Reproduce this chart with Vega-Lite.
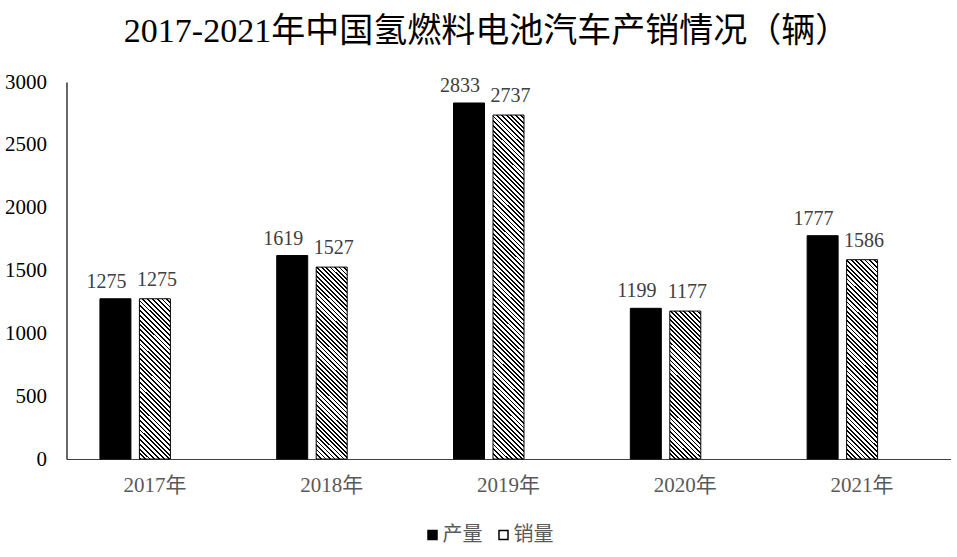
{
"$schema": "https://vega.github.io/schema/vega-lite/v6.json",
"width": 884, "height": 377,
"autosize": {"type": "none"},
"padding": {"left": 66.5, "top": 82, "right": 6.5, "bottom": 98},
"background": "white",
"title": {"text": "2017-2021年中国氢燃料电池汽车产销情况（辆）", "font": "'Liberation Serif', 'Noto Sans CJK SC', serif", "fontSize": 34, "fontWeight": "normal", "color": "#000000", "anchor": "middle", "dx": -22, "dy": 36, "offset": 31, "baseline": "alphabetic"},
"config": {"view": {"stroke": null}, "axis": {"grid": false, "ticks": false, "tickSize": 0}},
"data": {"values": [
{"year": "2017年", "type": "产量", "value": 1275},
{"year": "2017年", "type": "销量", "value": 1275},
{"year": "2018年", "type": "产量", "value": 1619},
{"year": "2018年", "type": "销量", "value": 1527},
{"year": "2019年", "type": "产量", "value": 2833},
{"year": "2019年", "type": "销量", "value": 2737},
{"year": "2020年", "type": "产量", "value": 1199},
{"year": "2020年", "type": "销量", "value": 1177},
{"year": "2021年", "type": "产量", "value": 1777},
{"year": "2021年", "type": "销量", "value": 1586}
]},
"encoding": {
"x": {"field": "year", "type": "nominal", "sort": null, "title": null, "scale": {"paddingInner": 0, "paddingOuter": 0},
 "axis": {"labelAngle": 0, "labelFont": "Liberation Serif, Noto Sans CJK SC", "labelFontSize": 21, "labelColor": "#595959", "labelPadding": 15, "domainColor": "#404040", "domainWidth": 1.2}},
"xOffset": {"field": "type", "type": "nominal", "scale": {"domain": ["产量", "销量", "空"], "paddingInner": 0.2152, "paddingOuter": 0.8469}},
"y": {"field": "value", "type": "quantitative", "title": null, "scale": {"domain": [0, 3000], "nice": false},
 "axis": {"values": [0, 500, 1000, 1500, 2000, 2500, 3000], "format": "d", "labelFont": "Liberation Serif", "labelFontSize": 21, "labelColor": "#000000", "labelPadding": 20, "domainColor": "#000000", "domainWidth": 1.2}}
},
"layer": [
{"mark": {"type": "bar", "stroke": "#000000", "strokeWidth": 1},
 "encoding": {"color": {
  "condition": [
   {"test": "datum.type==='销量'&&datum.year==='2017年'", "value": {"gradient": "linear", "x1": 0, "y1": 1, "x2": 0.2213, "y2": -0.1499, "stops": [
{"offset":0,"color":"#fff"},{"offset":0,"color":"#000"},{"offset":0.01,"color":"#000"},{"offset":0.01,"color":"#fff"},
{"offset":0.025,"color":"#fff"},{"offset":0.025,"color":"#000"},{"offset":0.035,"color":"#000"},{"offset":0.035,"color":"#fff"},
{"offset":0.05,"color":"#fff"},{"offset":0.05,"color":"#000"},{"offset":0.06,"color":"#000"},{"offset":0.06,"color":"#fff"},
{"offset":0.075,"color":"#fff"},{"offset":0.075,"color":"#000"},{"offset":0.085,"color":"#000"},{"offset":0.085,"color":"#fff"},
{"offset":0.1,"color":"#fff"},{"offset":0.1,"color":"#000"},{"offset":0.11,"color":"#000"},{"offset":0.11,"color":"#fff"},
{"offset":0.125,"color":"#fff"},{"offset":0.125,"color":"#000"},{"offset":0.135,"color":"#000"},{"offset":0.135,"color":"#fff"},
{"offset":0.15,"color":"#fff"},{"offset":0.15,"color":"#000"},{"offset":0.16,"color":"#000"},{"offset":0.16,"color":"#fff"},
{"offset":0.175,"color":"#fff"},{"offset":0.175,"color":"#000"},{"offset":0.185,"color":"#000"},{"offset":0.185,"color":"#fff"},
{"offset":0.2,"color":"#fff"},{"offset":0.2,"color":"#000"},{"offset":0.21,"color":"#000"},{"offset":0.21,"color":"#fff"},
{"offset":0.225,"color":"#fff"},{"offset":0.225,"color":"#000"},{"offset":0.235,"color":"#000"},{"offset":0.235,"color":"#fff"},
{"offset":0.25,"color":"#fff"},{"offset":0.25,"color":"#000"},{"offset":0.26,"color":"#000"},{"offset":0.26,"color":"#fff"},
{"offset":0.275,"color":"#fff"},{"offset":0.275,"color":"#000"},{"offset":0.285,"color":"#000"},{"offset":0.285,"color":"#fff"},
{"offset":0.3,"color":"#fff"},{"offset":0.3,"color":"#000"},{"offset":0.31,"color":"#000"},{"offset":0.31,"color":"#fff"},
{"offset":0.325,"color":"#fff"},{"offset":0.325,"color":"#000"},{"offset":0.335,"color":"#000"},{"offset":0.335,"color":"#fff"},
{"offset":0.35,"color":"#fff"},{"offset":0.35,"color":"#000"},{"offset":0.36,"color":"#000"},{"offset":0.36,"color":"#fff"},
{"offset":0.375,"color":"#fff"},{"offset":0.375,"color":"#000"},{"offset":0.385,"color":"#000"},{"offset":0.385,"color":"#fff"},
{"offset":0.4,"color":"#fff"},{"offset":0.4,"color":"#000"},{"offset":0.41,"color":"#000"},{"offset":0.41,"color":"#fff"},
{"offset":0.425,"color":"#fff"},{"offset":0.425,"color":"#000"},{"offset":0.435,"color":"#000"},{"offset":0.435,"color":"#fff"},
{"offset":0.45,"color":"#fff"},{"offset":0.45,"color":"#000"},{"offset":0.46,"color":"#000"},{"offset":0.46,"color":"#fff"},
{"offset":0.475,"color":"#fff"},{"offset":0.475,"color":"#000"},{"offset":0.485,"color":"#000"},{"offset":0.485,"color":"#fff"},
{"offset":0.5,"color":"#fff"},{"offset":0.5,"color":"#000"},{"offset":0.51,"color":"#000"},{"offset":0.51,"color":"#fff"},
{"offset":0.525,"color":"#fff"},{"offset":0.525,"color":"#000"},{"offset":0.535,"color":"#000"},{"offset":0.535,"color":"#fff"},
{"offset":0.55,"color":"#fff"},{"offset":0.55,"color":"#000"},{"offset":0.56,"color":"#000"},{"offset":0.56,"color":"#fff"},
{"offset":0.575,"color":"#fff"},{"offset":0.575,"color":"#000"},{"offset":0.585,"color":"#000"},{"offset":0.585,"color":"#fff"},
{"offset":0.6,"color":"#fff"},{"offset":0.6,"color":"#000"},{"offset":0.61,"color":"#000"},{"offset":0.61,"color":"#fff"},
{"offset":0.625,"color":"#fff"},{"offset":0.625,"color":"#000"},{"offset":0.635,"color":"#000"},{"offset":0.635,"color":"#fff"},
{"offset":0.65,"color":"#fff"},{"offset":0.65,"color":"#000"},{"offset":0.66,"color":"#000"},{"offset":0.66,"color":"#fff"},
{"offset":0.675,"color":"#fff"},{"offset":0.675,"color":"#000"},{"offset":0.685,"color":"#000"},{"offset":0.685,"color":"#fff"},
{"offset":0.7,"color":"#fff"},{"offset":0.7,"color":"#000"},{"offset":0.71,"color":"#000"},{"offset":0.71,"color":"#fff"},
{"offset":0.725,"color":"#fff"},{"offset":0.725,"color":"#000"},{"offset":0.735,"color":"#000"},{"offset":0.735,"color":"#fff"},
{"offset":0.75,"color":"#fff"},{"offset":0.75,"color":"#000"},{"offset":0.76,"color":"#000"},{"offset":0.76,"color":"#fff"},
{"offset":0.775,"color":"#fff"},{"offset":0.775,"color":"#000"},{"offset":0.785,"color":"#000"},{"offset":0.785,"color":"#fff"},
{"offset":0.8,"color":"#fff"},{"offset":0.8,"color":"#000"},{"offset":0.81,"color":"#000"},{"offset":0.81,"color":"#fff"},
{"offset":0.825,"color":"#fff"},{"offset":0.825,"color":"#000"},{"offset":0.835,"color":"#000"},{"offset":0.835,"color":"#fff"},
{"offset":0.85,"color":"#fff"},{"offset":0.85,"color":"#000"},{"offset":0.86,"color":"#000"},{"offset":0.86,"color":"#fff"},
{"offset":0.875,"color":"#fff"},{"offset":0.875,"color":"#000"},{"offset":0.885,"color":"#000"},{"offset":0.885,"color":"#fff"},
{"offset":0.9,"color":"#fff"},{"offset":0.9,"color":"#000"},{"offset":0.91,"color":"#000"},{"offset":0.91,"color":"#fff"},
{"offset":0.925,"color":"#fff"},{"offset":0.925,"color":"#000"},{"offset":0.935,"color":"#000"},{"offset":0.935,"color":"#fff"},
{"offset":0.95,"color":"#fff"},{"offset":0.95,"color":"#000"},{"offset":0.96,"color":"#000"},{"offset":0.96,"color":"#fff"},
{"offset":0.975,"color":"#fff"},{"offset":0.975,"color":"#000"},{"offset":0.985,"color":"#000"},{"offset":0.985,"color":"#fff"}
   ]}},
   {"test": "datum.type==='销量'&&datum.year==='2018年'", "value": {"gradient": "linear", "x1": 0, "y1": 1, "x2": 0.1818, "y2": -0.1315, "stops": [
{"offset":0,"color":"#fff"},{"offset":0,"color":"#000"},{"offset":0.008,"color":"#000"},{"offset":0.008,"color":"#fff"},
{"offset":0.02,"color":"#fff"},{"offset":0.02,"color":"#000"},{"offset":0.028,"color":"#000"},{"offset":0.028,"color":"#fff"},
{"offset":0.04,"color":"#fff"},{"offset":0.04,"color":"#000"},{"offset":0.048,"color":"#000"},{"offset":0.048,"color":"#fff"},
{"offset":0.06,"color":"#fff"},{"offset":0.06,"color":"#000"},{"offset":0.068,"color":"#000"},{"offset":0.068,"color":"#fff"},
{"offset":0.08,"color":"#fff"},{"offset":0.08,"color":"#000"},{"offset":0.088,"color":"#000"},{"offset":0.088,"color":"#fff"},
{"offset":0.1,"color":"#fff"},{"offset":0.1,"color":"#000"},{"offset":0.108,"color":"#000"},{"offset":0.108,"color":"#fff"},
{"offset":0.12,"color":"#fff"},{"offset":0.12,"color":"#000"},{"offset":0.128,"color":"#000"},{"offset":0.128,"color":"#fff"},
{"offset":0.14,"color":"#fff"},{"offset":0.14,"color":"#000"},{"offset":0.148,"color":"#000"},{"offset":0.148,"color":"#fff"},
{"offset":0.16,"color":"#fff"},{"offset":0.16,"color":"#000"},{"offset":0.168,"color":"#000"},{"offset":0.168,"color":"#fff"},
{"offset":0.18,"color":"#fff"},{"offset":0.18,"color":"#000"},{"offset":0.188,"color":"#000"},{"offset":0.188,"color":"#fff"},
{"offset":0.2,"color":"#fff"},{"offset":0.2,"color":"#000"},{"offset":0.208,"color":"#000"},{"offset":0.208,"color":"#fff"},
{"offset":0.22,"color":"#fff"},{"offset":0.22,"color":"#000"},{"offset":0.228,"color":"#000"},{"offset":0.228,"color":"#fff"},
{"offset":0.24,"color":"#fff"},{"offset":0.24,"color":"#000"},{"offset":0.248,"color":"#000"},{"offset":0.248,"color":"#fff"},
{"offset":0.26,"color":"#fff"},{"offset":0.26,"color":"#000"},{"offset":0.268,"color":"#000"},{"offset":0.268,"color":"#fff"},
{"offset":0.28,"color":"#fff"},{"offset":0.28,"color":"#000"},{"offset":0.288,"color":"#000"},{"offset":0.288,"color":"#fff"},
{"offset":0.3,"color":"#fff"},{"offset":0.3,"color":"#000"},{"offset":0.308,"color":"#000"},{"offset":0.308,"color":"#fff"},
{"offset":0.32,"color":"#fff"},{"offset":0.32,"color":"#000"},{"offset":0.328,"color":"#000"},{"offset":0.328,"color":"#fff"},
{"offset":0.34,"color":"#fff"},{"offset":0.34,"color":"#000"},{"offset":0.348,"color":"#000"},{"offset":0.348,"color":"#fff"},
{"offset":0.36,"color":"#fff"},{"offset":0.36,"color":"#000"},{"offset":0.368,"color":"#000"},{"offset":0.368,"color":"#fff"},
{"offset":0.38,"color":"#fff"},{"offset":0.38,"color":"#000"},{"offset":0.388,"color":"#000"},{"offset":0.388,"color":"#fff"},
{"offset":0.4,"color":"#fff"},{"offset":0.4,"color":"#000"},{"offset":0.408,"color":"#000"},{"offset":0.408,"color":"#fff"},
{"offset":0.42,"color":"#fff"},{"offset":0.42,"color":"#000"},{"offset":0.428,"color":"#000"},{"offset":0.428,"color":"#fff"},
{"offset":0.44,"color":"#fff"},{"offset":0.44,"color":"#000"},{"offset":0.448,"color":"#000"},{"offset":0.448,"color":"#fff"},
{"offset":0.46,"color":"#fff"},{"offset":0.46,"color":"#000"},{"offset":0.468,"color":"#000"},{"offset":0.468,"color":"#fff"},
{"offset":0.48,"color":"#fff"},{"offset":0.48,"color":"#000"},{"offset":0.488,"color":"#000"},{"offset":0.488,"color":"#fff"},
{"offset":0.5,"color":"#fff"},{"offset":0.5,"color":"#000"},{"offset":0.508,"color":"#000"},{"offset":0.508,"color":"#fff"},
{"offset":0.52,"color":"#fff"},{"offset":0.52,"color":"#000"},{"offset":0.528,"color":"#000"},{"offset":0.528,"color":"#fff"},
{"offset":0.54,"color":"#fff"},{"offset":0.54,"color":"#000"},{"offset":0.548,"color":"#000"},{"offset":0.548,"color":"#fff"},
{"offset":0.56,"color":"#fff"},{"offset":0.56,"color":"#000"},{"offset":0.568,"color":"#000"},{"offset":0.568,"color":"#fff"},
{"offset":0.58,"color":"#fff"},{"offset":0.58,"color":"#000"},{"offset":0.588,"color":"#000"},{"offset":0.588,"color":"#fff"},
{"offset":0.6,"color":"#fff"},{"offset":0.6,"color":"#000"},{"offset":0.608,"color":"#000"},{"offset":0.608,"color":"#fff"},
{"offset":0.62,"color":"#fff"},{"offset":0.62,"color":"#000"},{"offset":0.628,"color":"#000"},{"offset":0.628,"color":"#fff"},
{"offset":0.64,"color":"#fff"},{"offset":0.64,"color":"#000"},{"offset":0.648,"color":"#000"},{"offset":0.648,"color":"#fff"},
{"offset":0.66,"color":"#fff"},{"offset":0.66,"color":"#000"},{"offset":0.668,"color":"#000"},{"offset":0.668,"color":"#fff"},
{"offset":0.68,"color":"#fff"},{"offset":0.68,"color":"#000"},{"offset":0.688,"color":"#000"},{"offset":0.688,"color":"#fff"},
{"offset":0.7,"color":"#fff"},{"offset":0.7,"color":"#000"},{"offset":0.708,"color":"#000"},{"offset":0.708,"color":"#fff"},
{"offset":0.72,"color":"#fff"},{"offset":0.72,"color":"#000"},{"offset":0.728,"color":"#000"},{"offset":0.728,"color":"#fff"},
{"offset":0.74,"color":"#fff"},{"offset":0.74,"color":"#000"},{"offset":0.748,"color":"#000"},{"offset":0.748,"color":"#fff"},
{"offset":0.76,"color":"#fff"},{"offset":0.76,"color":"#000"},{"offset":0.768,"color":"#000"},{"offset":0.768,"color":"#fff"},
{"offset":0.78,"color":"#fff"},{"offset":0.78,"color":"#000"},{"offset":0.788,"color":"#000"},{"offset":0.788,"color":"#fff"},
{"offset":0.8,"color":"#fff"},{"offset":0.8,"color":"#000"},{"offset":0.808,"color":"#000"},{"offset":0.808,"color":"#fff"},
{"offset":0.82,"color":"#fff"},{"offset":0.82,"color":"#000"},{"offset":0.828,"color":"#000"},{"offset":0.828,"color":"#fff"},
{"offset":0.84,"color":"#fff"},{"offset":0.84,"color":"#000"},{"offset":0.848,"color":"#000"},{"offset":0.848,"color":"#fff"},
{"offset":0.86,"color":"#fff"},{"offset":0.86,"color":"#000"},{"offset":0.868,"color":"#000"},{"offset":0.868,"color":"#fff"},
{"offset":0.88,"color":"#fff"},{"offset":0.88,"color":"#000"},{"offset":0.888,"color":"#000"},{"offset":0.888,"color":"#fff"},
{"offset":0.9,"color":"#fff"},{"offset":0.9,"color":"#000"},{"offset":0.908,"color":"#000"},{"offset":0.908,"color":"#fff"},
{"offset":0.92,"color":"#fff"},{"offset":0.92,"color":"#000"},{"offset":0.928,"color":"#000"},{"offset":0.928,"color":"#fff"},
{"offset":0.94,"color":"#fff"},{"offset":0.94,"color":"#000"},{"offset":0.948,"color":"#000"},{"offset":0.948,"color":"#fff"},
{"offset":0.96,"color":"#fff"},{"offset":0.96,"color":"#000"},{"offset":0.968,"color":"#000"},{"offset":0.968,"color":"#fff"},
{"offset":0.98,"color":"#fff"},{"offset":0.98,"color":"#000"},{"offset":0.988,"color":"#000"},{"offset":0.988,"color":"#fff"}
   ]}},
   {"test": "datum.type==='销量'&&datum.year==='2019年'", "value": {"gradient": "linear", "x1": 0, "y1": 1, "x2": 0.0969, "y2": -0.081, "stops": [
{"offset":0,"color":"#fff"},{"offset":0,"color":"#000"},{"offset":0.005,"color":"#000"},{"offset":0.005,"color":"#fff"},
{"offset":0.0125,"color":"#fff"},{"offset":0.0125,"color":"#000"},{"offset":0.0175,"color":"#000"},{"offset":0.0175,"color":"#fff"},
{"offset":0.025,"color":"#fff"},{"offset":0.025,"color":"#000"},{"offset":0.03,"color":"#000"},{"offset":0.03,"color":"#fff"},
{"offset":0.0375,"color":"#fff"},{"offset":0.0375,"color":"#000"},{"offset":0.0425,"color":"#000"},{"offset":0.0425,"color":"#fff"},
{"offset":0.05,"color":"#fff"},{"offset":0.05,"color":"#000"},{"offset":0.055,"color":"#000"},{"offset":0.055,"color":"#fff"},
{"offset":0.0625,"color":"#fff"},{"offset":0.0625,"color":"#000"},{"offset":0.0675,"color":"#000"},{"offset":0.0675,"color":"#fff"},
{"offset":0.075,"color":"#fff"},{"offset":0.075,"color":"#000"},{"offset":0.08,"color":"#000"},{"offset":0.08,"color":"#fff"},
{"offset":0.0875,"color":"#fff"},{"offset":0.0875,"color":"#000"},{"offset":0.0925,"color":"#000"},{"offset":0.0925,"color":"#fff"},
{"offset":0.1,"color":"#fff"},{"offset":0.1,"color":"#000"},{"offset":0.105,"color":"#000"},{"offset":0.105,"color":"#fff"},
{"offset":0.1125,"color":"#fff"},{"offset":0.1125,"color":"#000"},{"offset":0.1175,"color":"#000"},{"offset":0.1175,"color":"#fff"},
{"offset":0.125,"color":"#fff"},{"offset":0.125,"color":"#000"},{"offset":0.13,"color":"#000"},{"offset":0.13,"color":"#fff"},
{"offset":0.1375,"color":"#fff"},{"offset":0.1375,"color":"#000"},{"offset":0.1425,"color":"#000"},{"offset":0.1425,"color":"#fff"},
{"offset":0.15,"color":"#fff"},{"offset":0.15,"color":"#000"},{"offset":0.155,"color":"#000"},{"offset":0.155,"color":"#fff"},
{"offset":0.1625,"color":"#fff"},{"offset":0.1625,"color":"#000"},{"offset":0.1675,"color":"#000"},{"offset":0.1675,"color":"#fff"},
{"offset":0.175,"color":"#fff"},{"offset":0.175,"color":"#000"},{"offset":0.18,"color":"#000"},{"offset":0.18,"color":"#fff"},
{"offset":0.1875,"color":"#fff"},{"offset":0.1875,"color":"#000"},{"offset":0.1925,"color":"#000"},{"offset":0.1925,"color":"#fff"},
{"offset":0.2,"color":"#fff"},{"offset":0.2,"color":"#000"},{"offset":0.205,"color":"#000"},{"offset":0.205,"color":"#fff"},
{"offset":0.2125,"color":"#fff"},{"offset":0.2125,"color":"#000"},{"offset":0.2175,"color":"#000"},{"offset":0.2175,"color":"#fff"},
{"offset":0.225,"color":"#fff"},{"offset":0.225,"color":"#000"},{"offset":0.23,"color":"#000"},{"offset":0.23,"color":"#fff"},
{"offset":0.2375,"color":"#fff"},{"offset":0.2375,"color":"#000"},{"offset":0.2425,"color":"#000"},{"offset":0.2425,"color":"#fff"},
{"offset":0.25,"color":"#fff"},{"offset":0.25,"color":"#000"},{"offset":0.255,"color":"#000"},{"offset":0.255,"color":"#fff"},
{"offset":0.2625,"color":"#fff"},{"offset":0.2625,"color":"#000"},{"offset":0.2675,"color":"#000"},{"offset":0.2675,"color":"#fff"},
{"offset":0.275,"color":"#fff"},{"offset":0.275,"color":"#000"},{"offset":0.28,"color":"#000"},{"offset":0.28,"color":"#fff"},
{"offset":0.2875,"color":"#fff"},{"offset":0.2875,"color":"#000"},{"offset":0.2925,"color":"#000"},{"offset":0.2925,"color":"#fff"},
{"offset":0.3,"color":"#fff"},{"offset":0.3,"color":"#000"},{"offset":0.305,"color":"#000"},{"offset":0.305,"color":"#fff"},
{"offset":0.3125,"color":"#fff"},{"offset":0.3125,"color":"#000"},{"offset":0.3175,"color":"#000"},{"offset":0.3175,"color":"#fff"},
{"offset":0.325,"color":"#fff"},{"offset":0.325,"color":"#000"},{"offset":0.33,"color":"#000"},{"offset":0.33,"color":"#fff"},
{"offset":0.3375,"color":"#fff"},{"offset":0.3375,"color":"#000"},{"offset":0.3425,"color":"#000"},{"offset":0.3425,"color":"#fff"},
{"offset":0.35,"color":"#fff"},{"offset":0.35,"color":"#000"},{"offset":0.355,"color":"#000"},{"offset":0.355,"color":"#fff"},
{"offset":0.3625,"color":"#fff"},{"offset":0.3625,"color":"#000"},{"offset":0.3675,"color":"#000"},{"offset":0.3675,"color":"#fff"},
{"offset":0.375,"color":"#fff"},{"offset":0.375,"color":"#000"},{"offset":0.38,"color":"#000"},{"offset":0.38,"color":"#fff"},
{"offset":0.3875,"color":"#fff"},{"offset":0.3875,"color":"#000"},{"offset":0.3925,"color":"#000"},{"offset":0.3925,"color":"#fff"},
{"offset":0.4,"color":"#fff"},{"offset":0.4,"color":"#000"},{"offset":0.405,"color":"#000"},{"offset":0.405,"color":"#fff"},
{"offset":0.4125,"color":"#fff"},{"offset":0.4125,"color":"#000"},{"offset":0.4175,"color":"#000"},{"offset":0.4175,"color":"#fff"},
{"offset":0.425,"color":"#fff"},{"offset":0.425,"color":"#000"},{"offset":0.43,"color":"#000"},{"offset":0.43,"color":"#fff"},
{"offset":0.4375,"color":"#fff"},{"offset":0.4375,"color":"#000"},{"offset":0.4425,"color":"#000"},{"offset":0.4425,"color":"#fff"},
{"offset":0.45,"color":"#fff"},{"offset":0.45,"color":"#000"},{"offset":0.455,"color":"#000"},{"offset":0.455,"color":"#fff"},
{"offset":0.4625,"color":"#fff"},{"offset":0.4625,"color":"#000"},{"offset":0.4675,"color":"#000"},{"offset":0.4675,"color":"#fff"},
{"offset":0.475,"color":"#fff"},{"offset":0.475,"color":"#000"},{"offset":0.48,"color":"#000"},{"offset":0.48,"color":"#fff"},
{"offset":0.4875,"color":"#fff"},{"offset":0.4875,"color":"#000"},{"offset":0.4925,"color":"#000"},{"offset":0.4925,"color":"#fff"},
{"offset":0.5,"color":"#fff"},{"offset":0.5,"color":"#000"},{"offset":0.505,"color":"#000"},{"offset":0.505,"color":"#fff"},
{"offset":0.5125,"color":"#fff"},{"offset":0.5125,"color":"#000"},{"offset":0.5175,"color":"#000"},{"offset":0.5175,"color":"#fff"},
{"offset":0.525,"color":"#fff"},{"offset":0.525,"color":"#000"},{"offset":0.53,"color":"#000"},{"offset":0.53,"color":"#fff"},
{"offset":0.5375,"color":"#fff"},{"offset":0.5375,"color":"#000"},{"offset":0.5425,"color":"#000"},{"offset":0.5425,"color":"#fff"},
{"offset":0.55,"color":"#fff"},{"offset":0.55,"color":"#000"},{"offset":0.555,"color":"#000"},{"offset":0.555,"color":"#fff"},
{"offset":0.5625,"color":"#fff"},{"offset":0.5625,"color":"#000"},{"offset":0.5675,"color":"#000"},{"offset":0.5675,"color":"#fff"},
{"offset":0.575,"color":"#fff"},{"offset":0.575,"color":"#000"},{"offset":0.58,"color":"#000"},{"offset":0.58,"color":"#fff"},
{"offset":0.5875,"color":"#fff"},{"offset":0.5875,"color":"#000"},{"offset":0.5925,"color":"#000"},{"offset":0.5925,"color":"#fff"},
{"offset":0.6,"color":"#fff"},{"offset":0.6,"color":"#000"},{"offset":0.605,"color":"#000"},{"offset":0.605,"color":"#fff"},
{"offset":0.6125,"color":"#fff"},{"offset":0.6125,"color":"#000"},{"offset":0.6175,"color":"#000"},{"offset":0.6175,"color":"#fff"},
{"offset":0.625,"color":"#fff"},{"offset":0.625,"color":"#000"},{"offset":0.63,"color":"#000"},{"offset":0.63,"color":"#fff"},
{"offset":0.6375,"color":"#fff"},{"offset":0.6375,"color":"#000"},{"offset":0.6425,"color":"#000"},{"offset":0.6425,"color":"#fff"},
{"offset":0.65,"color":"#fff"},{"offset":0.65,"color":"#000"},{"offset":0.655,"color":"#000"},{"offset":0.655,"color":"#fff"},
{"offset":0.6625,"color":"#fff"},{"offset":0.6625,"color":"#000"},{"offset":0.6675,"color":"#000"},{"offset":0.6675,"color":"#fff"},
{"offset":0.675,"color":"#fff"},{"offset":0.675,"color":"#000"},{"offset":0.68,"color":"#000"},{"offset":0.68,"color":"#fff"},
{"offset":0.6875,"color":"#fff"},{"offset":0.6875,"color":"#000"},{"offset":0.6925,"color":"#000"},{"offset":0.6925,"color":"#fff"},
{"offset":0.7,"color":"#fff"},{"offset":0.7,"color":"#000"},{"offset":0.705,"color":"#000"},{"offset":0.705,"color":"#fff"},
{"offset":0.7125,"color":"#fff"},{"offset":0.7125,"color":"#000"},{"offset":0.7175,"color":"#000"},{"offset":0.7175,"color":"#fff"},
{"offset":0.725,"color":"#fff"},{"offset":0.725,"color":"#000"},{"offset":0.73,"color":"#000"},{"offset":0.73,"color":"#fff"},
{"offset":0.7375,"color":"#fff"},{"offset":0.7375,"color":"#000"},{"offset":0.7425,"color":"#000"},{"offset":0.7425,"color":"#fff"},
{"offset":0.75,"color":"#fff"},{"offset":0.75,"color":"#000"},{"offset":0.755,"color":"#000"},{"offset":0.755,"color":"#fff"},
{"offset":0.7625,"color":"#fff"},{"offset":0.7625,"color":"#000"},{"offset":0.7675,"color":"#000"},{"offset":0.7675,"color":"#fff"},
{"offset":0.775,"color":"#fff"},{"offset":0.775,"color":"#000"},{"offset":0.78,"color":"#000"},{"offset":0.78,"color":"#fff"},
{"offset":0.7875,"color":"#fff"},{"offset":0.7875,"color":"#000"},{"offset":0.7925,"color":"#000"},{"offset":0.7925,"color":"#fff"},
{"offset":0.8,"color":"#fff"},{"offset":0.8,"color":"#000"},{"offset":0.805,"color":"#000"},{"offset":0.805,"color":"#fff"},
{"offset":0.8125,"color":"#fff"},{"offset":0.8125,"color":"#000"},{"offset":0.8175,"color":"#000"},{"offset":0.8175,"color":"#fff"},
{"offset":0.825,"color":"#fff"},{"offset":0.825,"color":"#000"},{"offset":0.83,"color":"#000"},{"offset":0.83,"color":"#fff"},
{"offset":0.8375,"color":"#fff"},{"offset":0.8375,"color":"#000"},{"offset":0.8425,"color":"#000"},{"offset":0.8425,"color":"#fff"},
{"offset":0.85,"color":"#fff"},{"offset":0.85,"color":"#000"},{"offset":0.855,"color":"#000"},{"offset":0.855,"color":"#fff"},
{"offset":0.8625,"color":"#fff"},{"offset":0.8625,"color":"#000"},{"offset":0.8675,"color":"#000"},{"offset":0.8675,"color":"#fff"},
{"offset":0.875,"color":"#fff"},{"offset":0.875,"color":"#000"},{"offset":0.88,"color":"#000"},{"offset":0.88,"color":"#fff"},
{"offset":0.8875,"color":"#fff"},{"offset":0.8875,"color":"#000"},{"offset":0.8925,"color":"#000"},{"offset":0.8925,"color":"#fff"},
{"offset":0.9,"color":"#fff"},{"offset":0.9,"color":"#000"},{"offset":0.905,"color":"#000"},{"offset":0.905,"color":"#fff"},
{"offset":0.9125,"color":"#fff"},{"offset":0.9125,"color":"#000"},{"offset":0.9175,"color":"#000"},{"offset":0.9175,"color":"#fff"},
{"offset":0.925,"color":"#fff"},{"offset":0.925,"color":"#000"},{"offset":0.93,"color":"#000"},{"offset":0.93,"color":"#fff"},
{"offset":0.9375,"color":"#fff"},{"offset":0.9375,"color":"#000"},{"offset":0.9425,"color":"#000"},{"offset":0.9425,"color":"#fff"},
{"offset":0.95,"color":"#fff"},{"offset":0.95,"color":"#000"},{"offset":0.955,"color":"#000"},{"offset":0.955,"color":"#fff"},
{"offset":0.9625,"color":"#fff"},{"offset":0.9625,"color":"#000"},{"offset":0.9675,"color":"#000"},{"offset":0.9675,"color":"#fff"},
{"offset":0.975,"color":"#fff"},{"offset":0.975,"color":"#000"},{"offset":0.98,"color":"#000"},{"offset":0.98,"color":"#fff"},
{"offset":0.9875,"color":"#fff"},{"offset":0.9875,"color":"#000"},{"offset":0.9925,"color":"#000"},{"offset":0.9925,"color":"#fff"}
   ]}},
   {"test": "datum.type==='销量'&&datum.year==='2020年'", "value": {"gradient": "linear", "x1": 0, "y1": 1, "x2": 0.2415, "y2": -0.1581, "stops": [
{"offset":0,"color":"#fff"},{"offset":0,"color":"#000"},{"offset":0.01,"color":"#000"},{"offset":0.01,"color":"#fff"},
{"offset":0.025,"color":"#fff"},{"offset":0.025,"color":"#000"},{"offset":0.035,"color":"#000"},{"offset":0.035,"color":"#fff"},
{"offset":0.05,"color":"#fff"},{"offset":0.05,"color":"#000"},{"offset":0.06,"color":"#000"},{"offset":0.06,"color":"#fff"},
{"offset":0.075,"color":"#fff"},{"offset":0.075,"color":"#000"},{"offset":0.085,"color":"#000"},{"offset":0.085,"color":"#fff"},
{"offset":0.1,"color":"#fff"},{"offset":0.1,"color":"#000"},{"offset":0.11,"color":"#000"},{"offset":0.11,"color":"#fff"},
{"offset":0.125,"color":"#fff"},{"offset":0.125,"color":"#000"},{"offset":0.135,"color":"#000"},{"offset":0.135,"color":"#fff"},
{"offset":0.15,"color":"#fff"},{"offset":0.15,"color":"#000"},{"offset":0.16,"color":"#000"},{"offset":0.16,"color":"#fff"},
{"offset":0.175,"color":"#fff"},{"offset":0.175,"color":"#000"},{"offset":0.185,"color":"#000"},{"offset":0.185,"color":"#fff"},
{"offset":0.2,"color":"#fff"},{"offset":0.2,"color":"#000"},{"offset":0.21,"color":"#000"},{"offset":0.21,"color":"#fff"},
{"offset":0.225,"color":"#fff"},{"offset":0.225,"color":"#000"},{"offset":0.235,"color":"#000"},{"offset":0.235,"color":"#fff"},
{"offset":0.25,"color":"#fff"},{"offset":0.25,"color":"#000"},{"offset":0.26,"color":"#000"},{"offset":0.26,"color":"#fff"},
{"offset":0.275,"color":"#fff"},{"offset":0.275,"color":"#000"},{"offset":0.285,"color":"#000"},{"offset":0.285,"color":"#fff"},
{"offset":0.3,"color":"#fff"},{"offset":0.3,"color":"#000"},{"offset":0.31,"color":"#000"},{"offset":0.31,"color":"#fff"},
{"offset":0.325,"color":"#fff"},{"offset":0.325,"color":"#000"},{"offset":0.335,"color":"#000"},{"offset":0.335,"color":"#fff"},
{"offset":0.35,"color":"#fff"},{"offset":0.35,"color":"#000"},{"offset":0.36,"color":"#000"},{"offset":0.36,"color":"#fff"},
{"offset":0.375,"color":"#fff"},{"offset":0.375,"color":"#000"},{"offset":0.385,"color":"#000"},{"offset":0.385,"color":"#fff"},
{"offset":0.4,"color":"#fff"},{"offset":0.4,"color":"#000"},{"offset":0.41,"color":"#000"},{"offset":0.41,"color":"#fff"},
{"offset":0.425,"color":"#fff"},{"offset":0.425,"color":"#000"},{"offset":0.435,"color":"#000"},{"offset":0.435,"color":"#fff"},
{"offset":0.45,"color":"#fff"},{"offset":0.45,"color":"#000"},{"offset":0.46,"color":"#000"},{"offset":0.46,"color":"#fff"},
{"offset":0.475,"color":"#fff"},{"offset":0.475,"color":"#000"},{"offset":0.485,"color":"#000"},{"offset":0.485,"color":"#fff"},
{"offset":0.5,"color":"#fff"},{"offset":0.5,"color":"#000"},{"offset":0.51,"color":"#000"},{"offset":0.51,"color":"#fff"},
{"offset":0.525,"color":"#fff"},{"offset":0.525,"color":"#000"},{"offset":0.535,"color":"#000"},{"offset":0.535,"color":"#fff"},
{"offset":0.55,"color":"#fff"},{"offset":0.55,"color":"#000"},{"offset":0.56,"color":"#000"},{"offset":0.56,"color":"#fff"},
{"offset":0.575,"color":"#fff"},{"offset":0.575,"color":"#000"},{"offset":0.585,"color":"#000"},{"offset":0.585,"color":"#fff"},
{"offset":0.6,"color":"#fff"},{"offset":0.6,"color":"#000"},{"offset":0.61,"color":"#000"},{"offset":0.61,"color":"#fff"},
{"offset":0.625,"color":"#fff"},{"offset":0.625,"color":"#000"},{"offset":0.635,"color":"#000"},{"offset":0.635,"color":"#fff"},
{"offset":0.65,"color":"#fff"},{"offset":0.65,"color":"#000"},{"offset":0.66,"color":"#000"},{"offset":0.66,"color":"#fff"},
{"offset":0.675,"color":"#fff"},{"offset":0.675,"color":"#000"},{"offset":0.685,"color":"#000"},{"offset":0.685,"color":"#fff"},
{"offset":0.7,"color":"#fff"},{"offset":0.7,"color":"#000"},{"offset":0.71,"color":"#000"},{"offset":0.71,"color":"#fff"},
{"offset":0.725,"color":"#fff"},{"offset":0.725,"color":"#000"},{"offset":0.735,"color":"#000"},{"offset":0.735,"color":"#fff"},
{"offset":0.75,"color":"#fff"},{"offset":0.75,"color":"#000"},{"offset":0.76,"color":"#000"},{"offset":0.76,"color":"#fff"},
{"offset":0.775,"color":"#fff"},{"offset":0.775,"color":"#000"},{"offset":0.785,"color":"#000"},{"offset":0.785,"color":"#fff"},
{"offset":0.8,"color":"#fff"},{"offset":0.8,"color":"#000"},{"offset":0.81,"color":"#000"},{"offset":0.81,"color":"#fff"},
{"offset":0.825,"color":"#fff"},{"offset":0.825,"color":"#000"},{"offset":0.835,"color":"#000"},{"offset":0.835,"color":"#fff"},
{"offset":0.85,"color":"#fff"},{"offset":0.85,"color":"#000"},{"offset":0.86,"color":"#000"},{"offset":0.86,"color":"#fff"},
{"offset":0.875,"color":"#fff"},{"offset":0.875,"color":"#000"},{"offset":0.885,"color":"#000"},{"offset":0.885,"color":"#fff"},
{"offset":0.9,"color":"#fff"},{"offset":0.9,"color":"#000"},{"offset":0.91,"color":"#000"},{"offset":0.91,"color":"#fff"},
{"offset":0.925,"color":"#fff"},{"offset":0.925,"color":"#000"},{"offset":0.935,"color":"#000"},{"offset":0.935,"color":"#fff"},
{"offset":0.95,"color":"#fff"},{"offset":0.95,"color":"#000"},{"offset":0.96,"color":"#000"},{"offset":0.96,"color":"#fff"},
{"offset":0.975,"color":"#fff"},{"offset":0.975,"color":"#000"},{"offset":0.985,"color":"#000"},{"offset":0.985,"color":"#fff"}
   ]}},
   {"test": "datum.type==='销量'&&datum.year==='2021年'", "value": {"gradient": "linear", "x1": 0, "y1": 1, "x2": 0.1745, "y2": -0.1277, "stops": [
{"offset":0,"color":"#fff"},{"offset":0,"color":"#000"},{"offset":0.008,"color":"#000"},{"offset":0.008,"color":"#fff"},
{"offset":0.02,"color":"#fff"},{"offset":0.02,"color":"#000"},{"offset":0.028,"color":"#000"},{"offset":0.028,"color":"#fff"},
{"offset":0.04,"color":"#fff"},{"offset":0.04,"color":"#000"},{"offset":0.048,"color":"#000"},{"offset":0.048,"color":"#fff"},
{"offset":0.06,"color":"#fff"},{"offset":0.06,"color":"#000"},{"offset":0.068,"color":"#000"},{"offset":0.068,"color":"#fff"},
{"offset":0.08,"color":"#fff"},{"offset":0.08,"color":"#000"},{"offset":0.088,"color":"#000"},{"offset":0.088,"color":"#fff"},
{"offset":0.1,"color":"#fff"},{"offset":0.1,"color":"#000"},{"offset":0.108,"color":"#000"},{"offset":0.108,"color":"#fff"},
{"offset":0.12,"color":"#fff"},{"offset":0.12,"color":"#000"},{"offset":0.128,"color":"#000"},{"offset":0.128,"color":"#fff"},
{"offset":0.14,"color":"#fff"},{"offset":0.14,"color":"#000"},{"offset":0.148,"color":"#000"},{"offset":0.148,"color":"#fff"},
{"offset":0.16,"color":"#fff"},{"offset":0.16,"color":"#000"},{"offset":0.168,"color":"#000"},{"offset":0.168,"color":"#fff"},
{"offset":0.18,"color":"#fff"},{"offset":0.18,"color":"#000"},{"offset":0.188,"color":"#000"},{"offset":0.188,"color":"#fff"},
{"offset":0.2,"color":"#fff"},{"offset":0.2,"color":"#000"},{"offset":0.208,"color":"#000"},{"offset":0.208,"color":"#fff"},
{"offset":0.22,"color":"#fff"},{"offset":0.22,"color":"#000"},{"offset":0.228,"color":"#000"},{"offset":0.228,"color":"#fff"},
{"offset":0.24,"color":"#fff"},{"offset":0.24,"color":"#000"},{"offset":0.248,"color":"#000"},{"offset":0.248,"color":"#fff"},
{"offset":0.26,"color":"#fff"},{"offset":0.26,"color":"#000"},{"offset":0.268,"color":"#000"},{"offset":0.268,"color":"#fff"},
{"offset":0.28,"color":"#fff"},{"offset":0.28,"color":"#000"},{"offset":0.288,"color":"#000"},{"offset":0.288,"color":"#fff"},
{"offset":0.3,"color":"#fff"},{"offset":0.3,"color":"#000"},{"offset":0.308,"color":"#000"},{"offset":0.308,"color":"#fff"},
{"offset":0.32,"color":"#fff"},{"offset":0.32,"color":"#000"},{"offset":0.328,"color":"#000"},{"offset":0.328,"color":"#fff"},
{"offset":0.34,"color":"#fff"},{"offset":0.34,"color":"#000"},{"offset":0.348,"color":"#000"},{"offset":0.348,"color":"#fff"},
{"offset":0.36,"color":"#fff"},{"offset":0.36,"color":"#000"},{"offset":0.368,"color":"#000"},{"offset":0.368,"color":"#fff"},
{"offset":0.38,"color":"#fff"},{"offset":0.38,"color":"#000"},{"offset":0.388,"color":"#000"},{"offset":0.388,"color":"#fff"},
{"offset":0.4,"color":"#fff"},{"offset":0.4,"color":"#000"},{"offset":0.408,"color":"#000"},{"offset":0.408,"color":"#fff"},
{"offset":0.42,"color":"#fff"},{"offset":0.42,"color":"#000"},{"offset":0.428,"color":"#000"},{"offset":0.428,"color":"#fff"},
{"offset":0.44,"color":"#fff"},{"offset":0.44,"color":"#000"},{"offset":0.448,"color":"#000"},{"offset":0.448,"color":"#fff"},
{"offset":0.46,"color":"#fff"},{"offset":0.46,"color":"#000"},{"offset":0.468,"color":"#000"},{"offset":0.468,"color":"#fff"},
{"offset":0.48,"color":"#fff"},{"offset":0.48,"color":"#000"},{"offset":0.488,"color":"#000"},{"offset":0.488,"color":"#fff"},
{"offset":0.5,"color":"#fff"},{"offset":0.5,"color":"#000"},{"offset":0.508,"color":"#000"},{"offset":0.508,"color":"#fff"},
{"offset":0.52,"color":"#fff"},{"offset":0.52,"color":"#000"},{"offset":0.528,"color":"#000"},{"offset":0.528,"color":"#fff"},
{"offset":0.54,"color":"#fff"},{"offset":0.54,"color":"#000"},{"offset":0.548,"color":"#000"},{"offset":0.548,"color":"#fff"},
{"offset":0.56,"color":"#fff"},{"offset":0.56,"color":"#000"},{"offset":0.568,"color":"#000"},{"offset":0.568,"color":"#fff"},
{"offset":0.58,"color":"#fff"},{"offset":0.58,"color":"#000"},{"offset":0.588,"color":"#000"},{"offset":0.588,"color":"#fff"},
{"offset":0.6,"color":"#fff"},{"offset":0.6,"color":"#000"},{"offset":0.608,"color":"#000"},{"offset":0.608,"color":"#fff"},
{"offset":0.62,"color":"#fff"},{"offset":0.62,"color":"#000"},{"offset":0.628,"color":"#000"},{"offset":0.628,"color":"#fff"},
{"offset":0.64,"color":"#fff"},{"offset":0.64,"color":"#000"},{"offset":0.648,"color":"#000"},{"offset":0.648,"color":"#fff"},
{"offset":0.66,"color":"#fff"},{"offset":0.66,"color":"#000"},{"offset":0.668,"color":"#000"},{"offset":0.668,"color":"#fff"},
{"offset":0.68,"color":"#fff"},{"offset":0.68,"color":"#000"},{"offset":0.688,"color":"#000"},{"offset":0.688,"color":"#fff"},
{"offset":0.7,"color":"#fff"},{"offset":0.7,"color":"#000"},{"offset":0.708,"color":"#000"},{"offset":0.708,"color":"#fff"},
{"offset":0.72,"color":"#fff"},{"offset":0.72,"color":"#000"},{"offset":0.728,"color":"#000"},{"offset":0.728,"color":"#fff"},
{"offset":0.74,"color":"#fff"},{"offset":0.74,"color":"#000"},{"offset":0.748,"color":"#000"},{"offset":0.748,"color":"#fff"},
{"offset":0.76,"color":"#fff"},{"offset":0.76,"color":"#000"},{"offset":0.768,"color":"#000"},{"offset":0.768,"color":"#fff"},
{"offset":0.78,"color":"#fff"},{"offset":0.78,"color":"#000"},{"offset":0.788,"color":"#000"},{"offset":0.788,"color":"#fff"},
{"offset":0.8,"color":"#fff"},{"offset":0.8,"color":"#000"},{"offset":0.808,"color":"#000"},{"offset":0.808,"color":"#fff"},
{"offset":0.82,"color":"#fff"},{"offset":0.82,"color":"#000"},{"offset":0.828,"color":"#000"},{"offset":0.828,"color":"#fff"},
{"offset":0.84,"color":"#fff"},{"offset":0.84,"color":"#000"},{"offset":0.848,"color":"#000"},{"offset":0.848,"color":"#fff"},
{"offset":0.86,"color":"#fff"},{"offset":0.86,"color":"#000"},{"offset":0.868,"color":"#000"},{"offset":0.868,"color":"#fff"},
{"offset":0.88,"color":"#fff"},{"offset":0.88,"color":"#000"},{"offset":0.888,"color":"#000"},{"offset":0.888,"color":"#fff"},
{"offset":0.9,"color":"#fff"},{"offset":0.9,"color":"#000"},{"offset":0.908,"color":"#000"},{"offset":0.908,"color":"#fff"},
{"offset":0.92,"color":"#fff"},{"offset":0.92,"color":"#000"},{"offset":0.928,"color":"#000"},{"offset":0.928,"color":"#fff"},
{"offset":0.94,"color":"#fff"},{"offset":0.94,"color":"#000"},{"offset":0.948,"color":"#000"},{"offset":0.948,"color":"#fff"},
{"offset":0.96,"color":"#fff"},{"offset":0.96,"color":"#000"},{"offset":0.968,"color":"#000"},{"offset":0.968,"color":"#fff"},
{"offset":0.98,"color":"#fff"},{"offset":0.98,"color":"#000"},{"offset":0.988,"color":"#000"},{"offset":0.988,"color":"#fff"}
   ]}}
  ],
  "field": "type", "type": "nominal",
  "scale": {"domain": ["产量", "销量"], "range": ["#000000", "#ffffff"]},
  "legend": {"title": null, "orient": "none", "legendX": 356, "legendY": 443, "direction": "horizontal", "padding": 0,
   "symbolType": "square", "symbolSize": 81, "symbolStrokeColor": "#000000", "symbolStrokeWidth": 1,
   "labelFont": "Noto Sans CJK SC", "labelFontSize": 20, "labelColor": "#595959", "labelOffset": 0, "columnPadding": 11,
   "encode": {"symbols": {"update": {
     "stroke": {"value": "#000000"}, "strokeWidth": {"value": 1.5},
     "fill": [
     {"test": "datum.value==='销量'", "value": {"gradient": "linear", "x1": 0, "y1": 1, "x2": 1, "y2": 0, "stops": [
{"offset":0,"color":"#fff"},{"offset":0,"color":"#000"},{"offset":0.1,"color":"#000"},{"offset":0.1,"color":"#fff"},
{"offset":0.25,"color":"#fff"},{"offset":0.25,"color":"#000"},{"offset":0.35,"color":"#000"},{"offset":0.35,"color":"#fff"},
{"offset":0.5,"color":"#fff"},{"offset":0.5,"color":"#000"},{"offset":0.6,"color":"#000"},{"offset":0.6,"color":"#fff"},
{"offset":0.75,"color":"#fff"},{"offset":0.75,"color":"#000"},{"offset":0.85,"color":"#000"},{"offset":0.85,"color":"#fff"}
     ]}},
     {"value": "#000000"}]}}}
  }
 }}
},
{"mark": {"type": "text", "baseline": "alphabetic", "align": "center", "font": "Liberation Serif", "fontSize": 20, "color": "#404040",
  "dx": {"expr": "datum.type==='产量' ? -9 : 2"}, "dy": {"expr": "datum.type==='产量' ? -11 : -13"}},
 "encoding": {"text": {"field": "value", "type": "quantitative", "format": "d"}}}
]
}
